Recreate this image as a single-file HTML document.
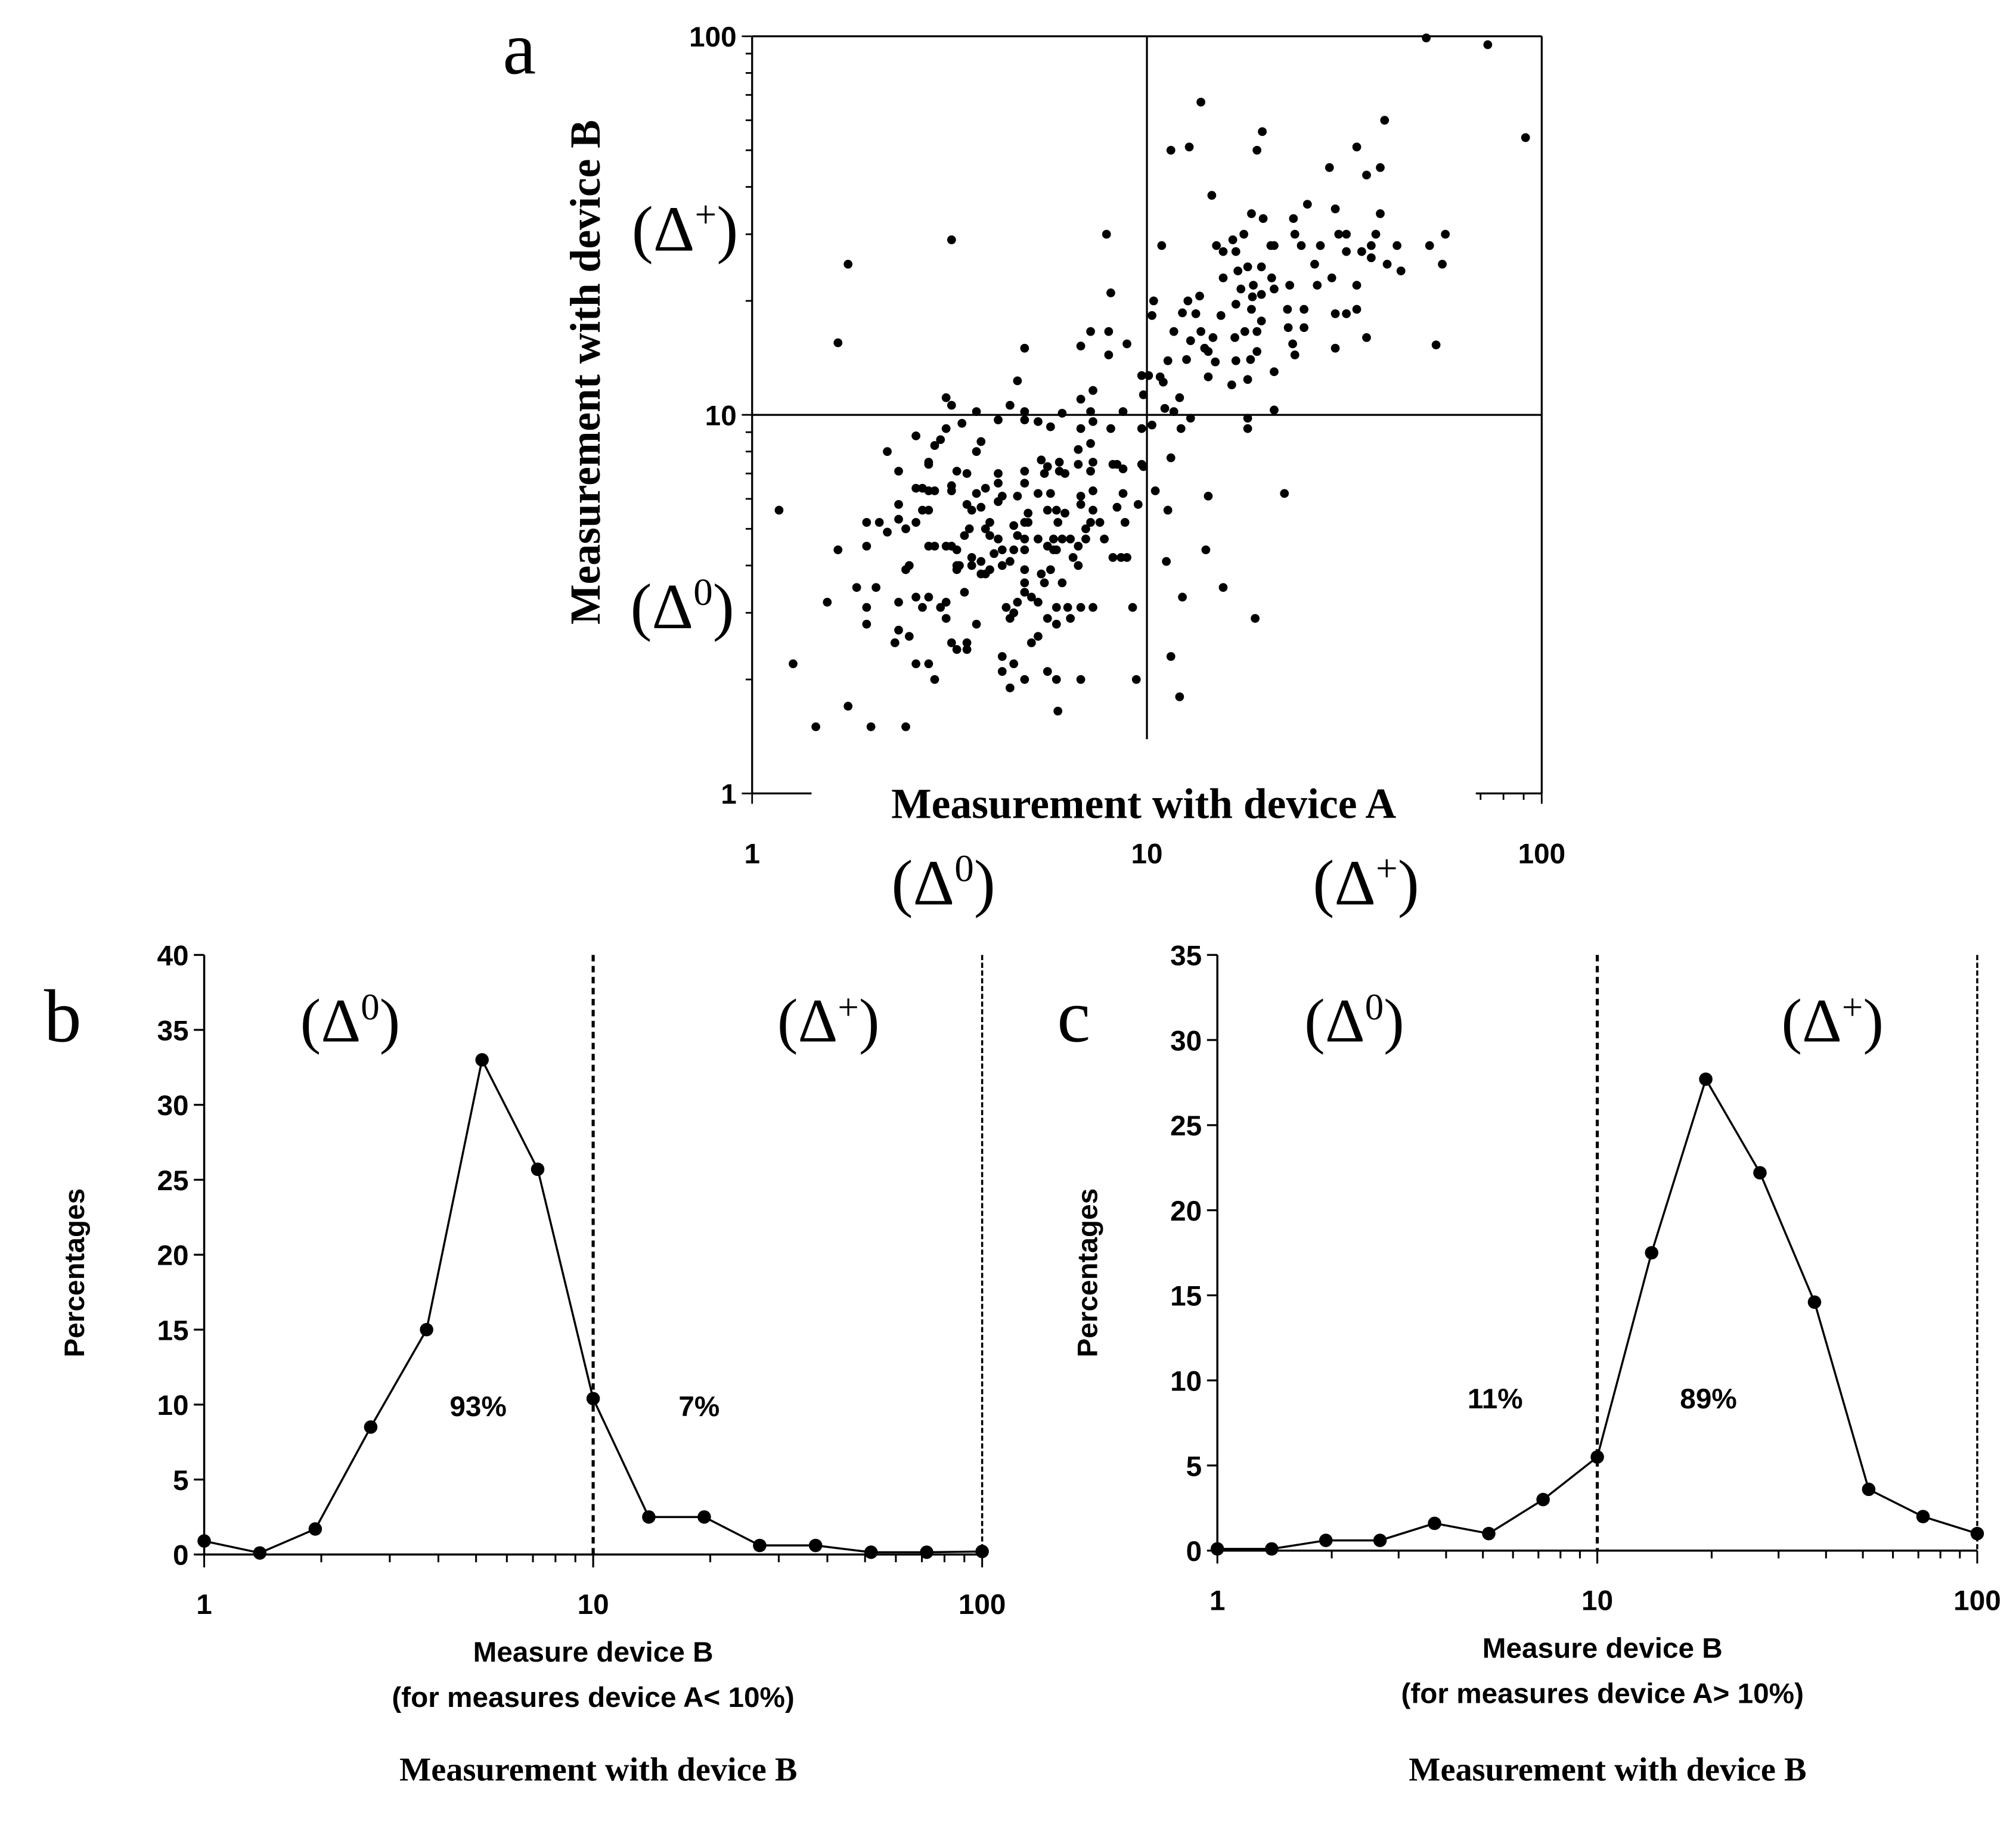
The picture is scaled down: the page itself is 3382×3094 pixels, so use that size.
<!DOCTYPE html>
<html><head><meta charset="utf-8"><style>
html,body{margin:0;padding:0;background:#fff}
svg{display:block}
.num{font-family:"Liberation Sans",Arial,sans-serif;font-weight:bold;font-size:22px}
.ser{font-family:"Liberation Serif","Times New Roman",serif}
.sb{font-family:"Liberation Serif",serif;font-weight:bold}
</style></head><body>
<svg id="fig" xmlns="http://www.w3.org/2000/svg" width="3382" height="3094" viewBox="0 0 1560 1427">
<rect width="1560" height="1427" fill="#fff"/>
<g id="pa"></g>
<g id="pb"></g>
<g id="pc"></g>
</svg>
<script>
// Panel a scatter data (device A, device B)
const scatterA = [51,73,91,13.7,19.6,19,11.5,12.8,40,34,29,39,36,14.6,25.5,18.4,19.7,30,39,23.5,3.2,1.75,7.9,1.65,23.7,27.5,30.6,32,38,43,52,57,56,54,10.9,15,16.5,17.6,15.6,16.8,21,20.6,24.6,37,37,40.6,44,35,32,26.6,29.4,27,34,34,32,30,36,30,25,22.7,25,22.8,23.4,23.7,21,21,18,18,22.3,23,21,20.7,19.5,18,17,15.6,18.6,17.3,18.5,19.5,18.4,16.8,19,19.5,17.7,16.7,19,18.3,18,16.8,16.4,14.9,14.3,14.3,14.7,13.7,12.9,12.6,14,13.3,12.3,12.7,13.6,10.4,10.3,15.4,11.7,11.3,10.8,11,10.1,9.7,9.8,12.1,11.1,11.7,12.9,12.2,10.3,9.7,9.7,11.5,10.5,11.3,14.3,14.1,15.6,18.8,11.2,12.3,11.5,12.1,9.4,9.2,
8,8.9,8,8.1,7.2,6.8,4.9,4.7,7.3,6.8,8.7,7.2,6.1,4.9,4.5,3.7,4.2,4.9,5.3,5.7,6.8,8.1,7.3,3.1,3.2,3.4,3.1,2.6,3,2.9,3.8,3.7,2.2,2.8,2.8,2.35,3.3,3.5,4.2,4.2,3.9,3.7,3.2,3.2,2.6,2.7,2.8,2.9,2.35,2.35,2.7,2.8,2.45,2.6,2.1,1.95,2.2,1.65,1.95,2.06,1.84,1.55,1.95,1.95,2.35,1.17,1.27,1.45,1.75,2.0,2.45,2.3,2.5,2.35,2.6,2.8,2.9,2.45,2.5,2.6,2.7,2.8,3.0,3.1,3.1,3.2,3.3,3.5,3.5,3.7,3.45,3.3,3.35,3.6,3.8,3.9,3.8,3.6,2.8,2.9,3.1,3.2,3.3,3.45,3.55,3.6,3.5,3.8,4.0,3.9,4.0,4.2,4.3,4.3,4.5,4.6,4.6,4.9,5.0,5.0,4.7,4.9,4.9,5.3,5.6,5.9,5.8,5.95,6.2,5.9,5.6,5.7,5.3,4.7,4.3,4.2,4.9,4.9,5.5,5.4,5.6,6.0,6.0,6.2,6.7,6.7,7.2,7.3,7.2,7.3,6.8,6.8,7.3,7.2,7.0,7.6,8.2,8.4,8.7,8.7,8.4,8.8,9.5,9.8,7.8,7.0,6.7,6.4,6.1,8.2,8.6,8.9,6.5,6.7,5.8,5.7,5.4,4.9,4.9,4.9,5.5,6.1,5.1,5.3,4.7,4.4,5.9,6.3,6.8,7.3,6.4,5.9,5.6,4.5,4.6,5.3,5.1,4.3,4.6,4.3,4.5,4.9,5.6,5.9,5.95,6.8,3.3,4.0,4.1];
const scatterB = [99,95,54,67,56,50,50,51,60,51,45,45,43,38,36,34,33,35,34,33,29,25,30,15.5,30,28,30,30,30,28,28,30,25,15.3,28,28,29,30,27,27,28,28,28,28,26,25,24,27,27,25,23,22,22,19,18.5,18.5,16,15,19,19,17,17,15.4,14.4,13,10.3,9.8,9.2,6.2,22,21.5,23,24.6,24.6,24,23,22,21.5,20.5,20.8,19,19.6,16.6,17.7,16.6,16,14.7,14,12.4,13.9,12,13.8,14.7,12.6,16,16.6,15.7,14,15,18.5,18.6,20,20.6,20,18.3,18.3,16.6,13.9,12.6,12.2,12.7,12.7,11.3,11.1,10.4,10.2,9.8,9.2,9.4,9.2,7.4,7.7,6.3,5.6,6.1,4.4,3.5,2.9,4.1,3.3,2.3,1.8,2.0,3.1,
16.6,15.4,14.4,21,16.6,15.2,15,12.3,11.6,11,10.2,10.2,10.1,10.2,10.6,10.2,9.7,9.7,9.6,9.3,9.2,9.2,9.6,11.1,10.6,9.5,9.2,8.8,8.6,8.3,8.5,8,8,7.5,7.4,7.1,7.1,7.0,7.0,6.6,6.4,6.2,6.5,6.3,6.4,6.4,6.3,6.3,5.8,5.3,5.6,5.6,5.0,5.2,5.2,5.2,4.9,4.4,4.5,3.5,3.5,3.2,3.1,2.8,3.2,5.6,2.2,1.5,1.7,1.5,1.5,2.5,2.6,2.7,2.2,2.2,2.0,3.9,4.0,3.3,3.1,3.3,3.1,3.2,2.9,2.5,2.4,2.5,2.4,2.8,3.4,3.9,4.0,4.0,3.8,3.8,4.1,4.2,4.5,4.5,4.5,4.5,4.4,4.8,5.0,5.6,5.8,5.7,5.2,5.0,4.8,4.7,4.4,4.0,4.1,4.4,5.1,5.2,5.5,5.2,4.8,4.7,4.4,4.7,4.5,4.4,4.7,5.2,5.5,5.6,5.6,6.2,6.2,6.1,6.1,5.9,6.6,7.1,7.0,7.6,7.3,7.5,7.1,7.0,7.4,8.1,8.4,7.5,7.1,6.3,6.1,5.8,5.6,5.2,5.0,5.2,7.4,7.4,7.2,6.2,5.7,5.2,5.8,7.3,4.7,4.7,4.5,4.7,4.7,4.2,4.2,4.2,4.2,4.0,4.4,3.9,3.8,3.9,3.6,3.4,3.6,3.6,3.3,3.2,3.2,3.1,3.1,3.1,3.1,3.1,2.9,2.8,2.9,2.9,3.0,2.6,2.5,2.3,2.2,2.1,1.9,2.0,2.1,2.0,1.65,2.0,4.0,3.9,4.3];
// Panel b / c line data
const binX = [1,1.39,1.93,2.68,3.73,5.18,7.2,10,13.9,19.3,26.8,37.3,51.8,72,100];
const valuesB = [0.9,0.1,1.7,8.5,15,33,25.7,10.4,2.5,2.5,0.6,0.6,0.15,0.15,0.2];
const valuesC = [0.1,0.1,0.6,0.6,1.6,1.0,3.0,5.5,17.5,27.7,22.2,14.6,3.6,2.0,1.0];
const yTicksB = [0,5,10,15,20,25,30,35,40];
const yTicksC = [0,5,10,15,20,25,30,35];
const logTicks = [1,10,100];

const NS="http://www.w3.org/2000/svg";
function mk(parent,tag,attrs,text){const e=document.createElementNS(NS,tag);for(const k in attrs)e.setAttribute(k,attrs[k]);if(text!==undefined)e.textContent=text;parent.appendChild(e);return e;}
function logScale(v,a,b){return a+(b-a)*Math.log10(v)/2;}

// ---------- Panel a ----------
(function(){
const g=document.getElementById('pa');
const L=582,R=1193,T=28,B=614;
const sx=v=>L+(R-L)*Math.log10(v)/2;
const sy=v=>B-(B-T)*Math.log10(v)/2;
let e;
e=mk(g,'line',{x1:L,y1:T,x2:L,y2:B,stroke:'#000','stroke-width':1.5});

e=mk(g,'line',{x1:L,y1:T,x2:R,y2:T,stroke:'#000','stroke-width':1.5});

e=mk(g,'line',{x1:R,y1:T,x2:R,y2:B,stroke:'#000','stroke-width':1.5});

e=mk(g,'line',{x1:L,y1:B,x2:R,y2:B,stroke:'#000','stroke-width':1.5});

e=mk(g,'line',{x1:sx(10),y1:T,x2:sx(10),y2:572,stroke:'#000','stroke-width':1.5});

e=mk(g,'line',{x1:L,y1:sy(10),x2:R,y2:sy(10),stroke:'#000','stroke-width':1.5});

for(let d=1;d<=100;d*=10){for(let m=1;m<10;m++){const v=d*m;if(v>100)break;
 const maj=(m===1);
 e=mk(g,'line',{x1:L,y1:sy(v),x2:L-(maj?8:5),y2:sy(v),stroke:'#000','stroke-width':1.3});
 
 e=mk(g,'line',{x1:sx(v),y1:B,x2:sx(v),y2:B+(maj?8:5),stroke:'#000','stroke-width':1.3});
 
}}
logTicks.forEach(v=>{
 e=mk(g,'text',{x:L-12,y:sy(v)+8,'text-anchor':'end',class:'num','font-size':24},String(v));
 
 e=mk(g,'text',{x:sx(v),y:668,'text-anchor':'middle',class:'num','font-size':24},String(v));
 
});
scatterA.forEach((a,i)=>{
 e=mk(g,'circle',{cx:sx(a),cy:sy(scatterB[i]),r:3.4,fill:'#000'});
 
});
e=mk(g,'rect',{x:628,y:600,width:514,height:40,fill:'#fff'});

e=mk(g,'text',{x:885,y:633,'text-anchor':'middle',class:'sb','font-size':33},'Measurement with device A');

e=mk(g,'text',{x:0,y:0,'text-anchor':'middle',class:'sb','font-size':33,transform:'translate(464,288) rotate(-90)'},'Measurement with device B');

e=mk(g,'text',{x:389,y:57,class:'ser','font-size':58},'a');

const dl=[[530,194,'+','delta-plus-y'],[528,486,'0','delta-zero-y'],[730,700,'0','delta-zero-x'],[1057,700,'+','delta-plus-x']];
dl.forEach(d=>{
 e=mk(g,'text',{x:d[0],y:d[1],'text-anchor':'middle',class:'ser','font-size':50});
 
 e.innerHTML='(Δ<tspan dy="-18" font-size="30">'+d[2]+'</tspan><tspan dy="18">)</tspan>';
});
})();

// ---------- Panels b, c ----------
function linePanel(id,L,R,T,B,yMax,yTicks,vals,letter,pcts,sub,titleCx){
const g=document.getElementById(id);
const sx=v=>logScale(v,L,R);
const sy=v=>B-(B-T)*v/yMax;
let e;
e=mk(g,'line',{x1:L,y1:T,x2:L,y2:B,stroke:'#000','stroke-width':1.6});

e=mk(g,'line',{x1:L,y1:B,x2:R,y2:B,stroke:'#000','stroke-width':1.6});

e=mk(g,'line',{x1:R,y1:T,x2:R,y2:B,stroke:'#000','stroke-width':1.6,'stroke-dasharray':'4 2'});

e=mk(g,'line',{x1:sx(10),y1:T,x2:sx(10),y2:B,stroke:'#000','stroke-width':2.4,'stroke-dasharray':'5 3.5'});

yTicks.forEach(v=>{
 e=mk(g,'line',{x1:L-8,y1:sy(v),x2:L,y2:sy(v),stroke:'#000','stroke-width':1.5});
 
 e=mk(g,'text',{x:L-12,y:sy(v)+8,'text-anchor':'end',class:'num'},String(v));
 
});
for(let d=1;d<100;d*=10){for(let m=1;m<=10;m++){const v=d*m;const maj=(m===1||m===10);
 e=mk(g,'line',{x1:sx(v),y1:B,x2:sx(v),y2:B+(maj?10:6),stroke:'#000','stroke-width':1.4});
 
}}
logTicks.forEach(v=>{
 e=mk(g,'text',{x:sx(v),y:B+46,'text-anchor':'middle',class:'num'},String(v));
 
});
let p='';
binX.forEach((x,i)=>{p+=(i?'L':'M')+sx(x).toFixed(1)+','+sy(vals[i]).toFixed(1);});
e=mk(g,'path',{d:p,fill:'none',stroke:'#000','stroke-width':1.6});

binX.forEach((x,i)=>{
 e=mk(g,'circle',{cx:sx(x),cy:sy(vals[i]),r:5.2,fill:'#000'});
 
});
e=mk(g,'text',{x:0,y:0,'text-anchor':'middle',class:'num','font-size':23,transform:'translate('+(L-93)+','+(T+246)+') rotate(-90)'},'Percentages');

e=mk(g,'text',{x:titleCx,y:B+83,'text-anchor':'middle',class:'num','font-size':23},'Measure device B');

e=mk(g,'text',{x:titleCx,y:B+118,'text-anchor':'middle',class:'num','font-size':23},sub);

e=mk(g,'text',{x:titleCx+4,y:1378,'text-anchor':'middle',class:'sb','font-size':26},'Measurement with device B');

e=mk(g,'text',{x:L-124,y:806,class:'ser','font-size':58},letter);

[[sx(10)-188,'0','delta-zero-label'],[sx(10)+182,'+','delta-plus-label']].forEach(d=>{
 e=mk(g,'text',{x:d[0],y:806,'text-anchor':'middle',class:'ser','font-size':48});
 
 e.innerHTML='(Δ<tspan dy="-17" font-size="29">'+d[1]+'</tspan><tspan dy="17">)</tspan>';
});
e=mk(g,'text',{x:pcts[0],y:pcts[2],'text-anchor':'middle',class:'num','font-size':24},pcts[3]);

e=mk(g,'text',{x:pcts[1],y:pcts[2],'text-anchor':'middle',class:'num','font-size':24},pcts[4]);

}
linePanel('pb',158,760,739,1203,40,yTicksB,valuesB,'b',[370,541,1096,'93%','7%'],'(for measures device A< 10%)',459);
linePanel('pc',942,1530,739,1200,35,yTicksC,valuesC,'c',[1157,1322,1090,'11%','89%'],'(for measures device A> 10%)',1240);
</script>
</body></html>
